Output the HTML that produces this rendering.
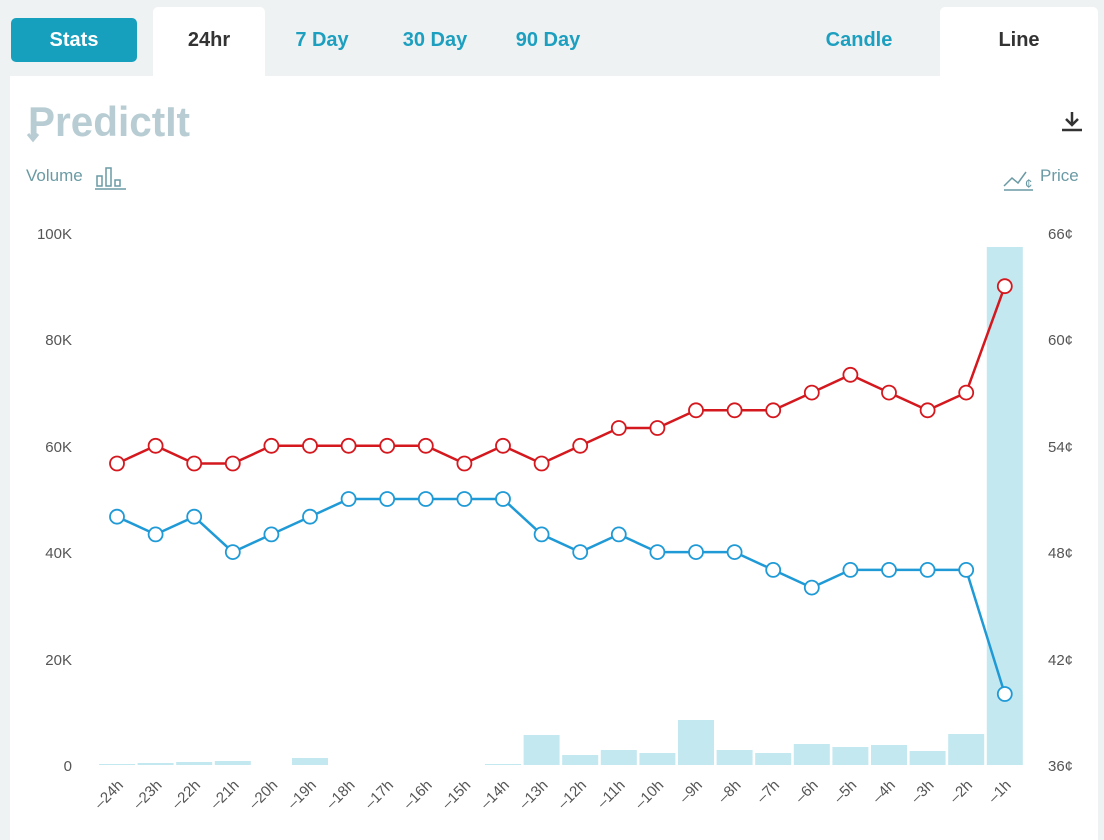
<!DOCTYPE html>
<html><head><meta charset="utf-8"><style>
body{margin:0;width:1104px;height:840px;background:#eef2f3;font-family:"Liberation Sans",sans-serif;overflow:hidden;position:relative}
.tab{position:absolute;top:7px;height:69px;line-height:66px;text-align:center;font-weight:bold;font-size:20px;color:#1d9fbf}
.white{background:#fff;border-radius:5px 5px 0 0;color:#333}
#stats{position:absolute;left:11px;top:18px;width:126px;height:44px;background:#16a0bd;border-radius:5px;color:#fff;font-weight:bold;font-size:20px;line-height:44px;text-align:center}
#panel{position:absolute;left:10px;top:76px;width:1088px;height:764px;background:#fff}
</style></head><body>
<div id="stats">Stats</div>
<div class="tab white" style="left:153px;width:112px">24hr</div>
<div class="tab" style="left:276px;width:92px">7 Day</div>
<div class="tab" style="left:388px;width:94px">30 Day</div>
<div class="tab" style="left:502px;width:92px">90 Day</div>
<div class="tab" style="left:810px;width:98px">Candle</div>
<div class="tab white" style="left:940px;width:158px">Line</div>
<div id="panel"></div>
<svg width="1104" height="840" style="position:absolute;left:0;top:0" font-family="Liberation Sans, sans-serif">
<text x="28" y="136" font-size="42" font-weight="bold" fill="#b8cdd3" textLength="162" lengthAdjust="spacingAndGlyphs">PredictIt</text>
<path d="M33 125v15M28 134l5 6 5-6" stroke="#b8cdd3" stroke-width="3" fill="none"/>
<path d="M1072 112v13M1066 119l6 6 6-6M1062 130h20" stroke="#333" stroke-width="2.5" fill="none"/>
<text x="26" y="181" font-size="17" fill="#6a9aa4">Volume</text>
<g stroke="#6a9aa4" stroke-width="1.5" fill="none"><rect x="97" y="176" width="5" height="10"/><rect x="106" y="168" width="5" height="18"/><rect x="115" y="180" width="5" height="6"/><path d="M95 189h31"/></g>
<g stroke="#6a9aa4" stroke-width="1.5" fill="none"><path d="M1004 186l8-8 6 5 8-11M1004 190h29"/></g>
<text x="1025" y="188" font-size="13" fill="#6a9aa4">¢</text>
<text x="1040" y="181" font-size="17" fill="#6a9aa4">Price</text>
<g font-size="15" fill="#555" text-anchor="end">
<text x="72" y="239">100K</text><text x="72" y="345">80K</text><text x="72" y="452">60K</text><text x="72" y="558">40K</text><text x="72" y="665">20K</text><text x="72" y="771">0</text>
</g>
<g font-size="15" fill="#555" text-anchor="start">
<text x="1048" y="239">66¢</text><text x="1048" y="345">60¢</text><text x="1048" y="452">54¢</text><text x="1048" y="558">48¢</text><text x="1048" y="665">42¢</text><text x="1048" y="771">36¢</text>
</g>
<g fill="#c4e8f0">
<rect x="99" y="764" width="36" height="1"/><rect x="137.6" y="763" width="36" height="2"/><rect x="176.2" y="762" width="36" height="3"/><rect x="214.8" y="761" width="36" height="4"/><rect x="292" y="758" width="36" height="7"/><rect x="485" y="764" width="36" height="1"/><rect x="523.6" y="735" width="36" height="30"/><rect x="562.2" y="755" width="36" height="10"/><rect x="600.8" y="750" width="36" height="15"/><rect x="639.4" y="753" width="36" height="12"/><rect x="678" y="720" width="36" height="45"/><rect x="716.6" y="750" width="36" height="15"/><rect x="755.2" y="753" width="36" height="12"/><rect x="793.8" y="744" width="36" height="21"/><rect x="832.4" y="747" width="36" height="18"/><rect x="871" y="745" width="36" height="20"/><rect x="909.6" y="751" width="36" height="14"/><rect x="948.2" y="734" width="36" height="31"/><rect x="986.8" y="247" width="36" height="518"/>
</g>
<polyline fill="none" stroke="#d4181e" stroke-width="2.5" points="117,463.5 155.6,445.8 194.2,463.5 232.8,463.5 271.4,445.8 310,445.8 348.6,445.8 387.2,445.8 425.8,445.8 464.4,463.5 503,445.8 541.6,463.5 580.2,445.8 618.8,428 657.4,428 696,410.3 734.6,410.3 773.2,410.3 811.8,392.6 850.4,374.8 889,392.6 927.6,410.3 966.2,392.6 1004.8,286.2"/>
<polyline fill="none" stroke="#1f9ad6" stroke-width="2.5" points="117,516.7 155.6,534.4 194.2,516.7 232.8,552.1 271.4,534.4 310,516.7 348.6,499 387.2,499 425.8,499 464.4,499 503,499 541.6,534.4 580.2,552.1 618.8,534.4 657.4,552.1 696,552.1 734.6,552.1 773.2,569.9 811.8,587.6 850.4,569.9 889,569.9 927.6,569.9 966.2,569.9 1004.8,694"/>
<g fill="#fff" stroke="#d4181e" stroke-width="1.8">
<circle cx="117" cy="463.5" r="7"/><circle cx="155.6" cy="445.8" r="7"/><circle cx="194.2" cy="463.5" r="7"/><circle cx="232.8" cy="463.5" r="7"/><circle cx="271.4" cy="445.8" r="7"/><circle cx="310" cy="445.8" r="7"/><circle cx="348.6" cy="445.8" r="7"/><circle cx="387.2" cy="445.8" r="7"/><circle cx="425.8" cy="445.8" r="7"/><circle cx="464.4" cy="463.5" r="7"/><circle cx="503" cy="445.8" r="7"/><circle cx="541.6" cy="463.5" r="7"/><circle cx="580.2" cy="445.8" r="7"/><circle cx="618.8" cy="428" r="7"/><circle cx="657.4" cy="428" r="7"/><circle cx="696" cy="410.3" r="7"/><circle cx="734.6" cy="410.3" r="7"/><circle cx="773.2" cy="410.3" r="7"/><circle cx="811.8" cy="392.6" r="7"/><circle cx="850.4" cy="374.8" r="7"/><circle cx="889" cy="392.6" r="7"/><circle cx="927.6" cy="410.3" r="7"/><circle cx="966.2" cy="392.6" r="7"/><circle cx="1004.8" cy="286.2" r="7"/>
</g>
<g fill="#fff" stroke="#1f9ad6" stroke-width="1.8">
<circle cx="117" cy="516.7" r="7"/><circle cx="155.6" cy="534.4" r="7"/><circle cx="194.2" cy="516.7" r="7"/><circle cx="232.8" cy="552.1" r="7"/><circle cx="271.4" cy="534.4" r="7"/><circle cx="310" cy="516.7" r="7"/><circle cx="348.6" cy="499" r="7"/><circle cx="387.2" cy="499" r="7"/><circle cx="425.8" cy="499" r="7"/><circle cx="464.4" cy="499" r="7"/><circle cx="503" cy="499" r="7"/><circle cx="541.6" cy="534.4" r="7"/><circle cx="580.2" cy="552.1" r="7"/><circle cx="618.8" cy="534.4" r="7"/><circle cx="657.4" cy="552.1" r="7"/><circle cx="696" cy="552.1" r="7"/><circle cx="734.6" cy="552.1" r="7"/><circle cx="773.2" cy="569.9" r="7"/><circle cx="811.8" cy="587.6" r="7"/><circle cx="850.4" cy="569.9" r="7"/><circle cx="889" cy="569.9" r="7"/><circle cx="927.6" cy="569.9" r="7"/><circle cx="966.2" cy="569.9" r="7"/><circle cx="1004.8" cy="694" r="7"/>
</g>
<g font-size="15" fill="#555" text-anchor="end">
<text transform="translate(124,786) rotate(-45)">–24h</text><text transform="translate(162.6,786) rotate(-45)">–23h</text><text transform="translate(201.2,786) rotate(-45)">–22h</text><text transform="translate(239.8,786) rotate(-45)">–21h</text><text transform="translate(278.4,786) rotate(-45)">–20h</text><text transform="translate(317,786) rotate(-45)">–19h</text><text transform="translate(355.6,786) rotate(-45)">–18h</text><text transform="translate(394.2,786) rotate(-45)">–17h</text><text transform="translate(432.8,786) rotate(-45)">–16h</text><text transform="translate(471.4,786) rotate(-45)">–15h</text><text transform="translate(510,786) rotate(-45)">–14h</text><text transform="translate(548.6,786) rotate(-45)">–13h</text><text transform="translate(587.2,786) rotate(-45)">–12h</text><text transform="translate(625.8,786) rotate(-45)">–11h</text><text transform="translate(664.4,786) rotate(-45)">–10h</text><text transform="translate(703,786) rotate(-45)">–9h</text><text transform="translate(741.6,786) rotate(-45)">–8h</text><text transform="translate(780.2,786) rotate(-45)">–7h</text><text transform="translate(818.8,786) rotate(-45)">–6h</text><text transform="translate(857.4,786) rotate(-45)">–5h</text><text transform="translate(896,786) rotate(-45)">–4h</text><text transform="translate(934.6,786) rotate(-45)">–3h</text><text transform="translate(973.2,786) rotate(-45)">–2h</text><text transform="translate(1011.8,786) rotate(-45)">–1h</text>
</g>
</svg>
</body></html>
